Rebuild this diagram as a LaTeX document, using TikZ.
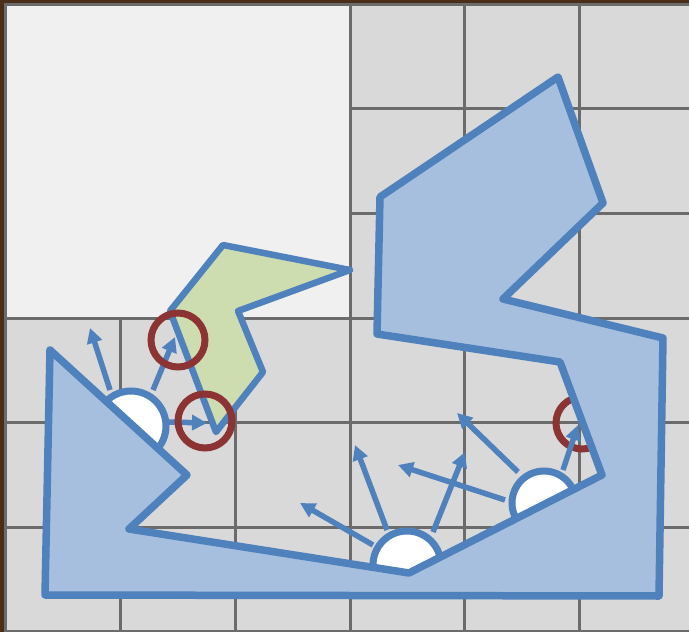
\documentclass[tikz,border=0pt]{standalone}
\usepackage{tikz}
\usetikzlibrary{arrows.meta}
\definecolor{framebrown}{HTML}{4A2E1A}
\definecolor{tilefill}{HTML}{D9D9D9}
\definecolor{openfill}{HTML}{F0F0F0}
\definecolor{tileline}{HTML}{6B6B6B}
\definecolor{wallblue}{HTML}{4F81BD}
\definecolor{wallfill}{HTML}{A7BFDE}
\definecolor{goalfill}{HTML}{CDDDAF}
\definecolor{hitred}{HTML}{8C3434}

\begin{document}
\begin{tikzpicture}[
		x=1pt, y=-1pt,
		>={Triangle[length=15pt, width=15pt]},
		gridline/.style={draw=tileline, line width=3pt},
		wall/.style={fill=wallfill, draw=wallblue, line width=7.5pt, line join=round},
		goal/.style={fill=goalfill, draw=wallblue, line width=6.5pt, line join=round},
		lamp/.style={fill=white, draw=wallblue, line width=7pt},
		hit/.style={draw=hitred, line width=7pt},
		ray/.style={->, draw=wallblue, line width=5.5pt},
	]
		\useasboundingbox (0,0) rectangle (689,632);
		\fill[framebrown] (0,0) rectangle (689,632);

		% Floor tiles
		\begin{scope}
			\clip (0,0) rectangle (689,632);
			\fill[tilefill] (5,4) rectangle (694,631);
			\fill[openfill] (5,4) rectangle (350,318);
			\foreach \x in {350,464,579} \draw[gridline] (\x,4) -- (\x,632);
			\foreach \x in {120,235} \draw[gridline] (\x,318) -- (\x,632);
			\foreach \y in {108,213} \draw[gridline] (350,\y) -- (694,\y);
			\foreach \y in {318,422,527} \draw[gridline] (5,\y) -- (694,\y);
			\draw[gridline] (5,4) rectangle (694,631);
		\end{scope}

		% Target piece
		\draw[goal] (223,245) -- (350,270) -- (238,311) -- (263,372) -- (216,432) -- (170,311) -- cycle;

		% Lamps
		\coordinate (lampA) at (131,426);
		\coordinate (lampB) at (407,565);
		\coordinate (lampC) at (544,503);
		\begin{scope}
			\clip (0,0) rectangle (689,585);
			\draw[lamp] (lampA) circle (35);
			\draw[lamp] (lampB) circle (34);
			\draw[lamp] (lampC) circle (32);
		\end{scope}

		% Hidden hit
		\coordinate (hitC) at (582,423);
		\draw[hit] (hitC) circle (26);

		% Walls
		\draw[wall] (50,350) -- (187,475) -- (129,529) -- (409,573) -- (602,475) -- (560,362)
			-- (377,334) -- (380,197) -- (558,77) -- (603,203) -- (503,299) -- (663,338)
			-- (659,596) -- (45,595) -- cycle;

		% Rays
		\foreach \sx/\sy/\ex/\ey in {110/390/90/328, 153/390/175/337, 168/422/207/423,
				373/545/300/503, 387/530/355/445, 433/532/465/452,
				505/500/398/465, 518/472/457/413, 563/470/578/425}
			\draw[ray] (\sx,\sy) -- (\ex,\ey);

		% Hits
		\coordinate (hitA) at (178,340);
		\coordinate (hitB) at (205,421);
		\draw[hit] (hitA) circle (27);
		\draw[hit] (hitB) circle (27);
	\end{tikzpicture}
\end{document}
